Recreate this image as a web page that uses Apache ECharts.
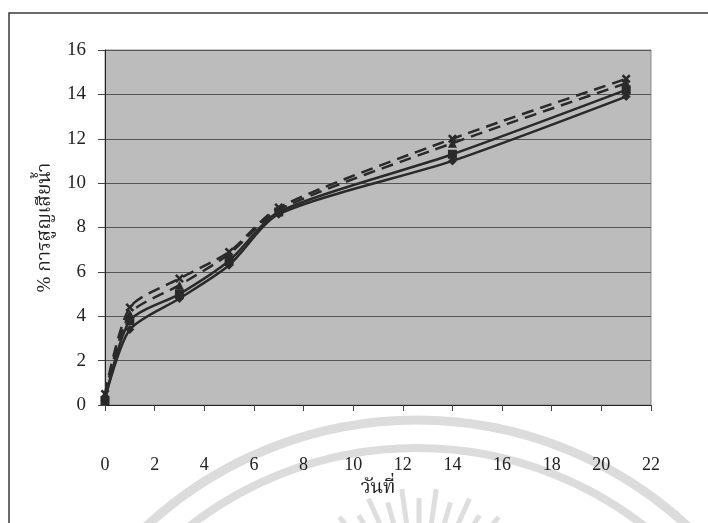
<!DOCTYPE html>
<html>
<head>
<meta charset="utf-8">
<script src="https://cdn.jsdelivr.net/npm/echarts@6/dist/echarts.min.js"></script>
<style>
  html, body { margin: 0; padding: 0; background: #fff; }
  #chart { width: 708px; height: 523px; }
</style>
</head>
<body>
<div id="chart"></div>
<script>
// Days of storage
const days = [0, 1, 3, 5, 7, 14, 21];

// Water loss (%) for each treatment
const lossA = [0.3, 3.4, 4.8, 6.3, 8.6, 11.0, 13.9];
const lossB = [0.2, 3.8, 5.0, 6.5, 8.7, 11.3, 14.2];
const lossC = [0.4, 4.1, 5.4, 6.8, 8.8, 11.8, 14.5];
const lossD = [0.5, 4.4, 5.7, 6.9, 8.9, 12.0, 14.7];

const xTicks = { min: 0, max: 22, step: 2 };
const yTicks = { min: 0, max: 16, step: 2 };

const serifFont = "'Liberation Serif', 'Times New Roman', 'Noto Serif Thai', 'Noto Sans Thai', 'Garuda', 'Loma', serif";
const lineColor = '#2a2a2a';

function pairs(ys) {
  return days.map((d, i) => [d, ys[i]]);
}

const crossPath = 'path://M0,2 L2,0 L5,3 L8,0 L10,2 L7,5 L10,8 L8,10 L5,7 L2,10 L0,8 L3,5 Z';

function lineSeries(name, ys, dashed, symbol) {
  return {
    name: name,
    type: 'line',
    data: pairs(ys),
    smooth: 0.25,
    symbol: symbol,
    symbolSize: 9,
    showSymbol: true,
    itemStyle: { color: lineColor },
    lineStyle: {
      color: lineColor,
      width: 2.5,
      type: dashed ? [12, 7] : 'solid'
    },
    emphasis: { disabled: true },
    z: 3
  };
}

// Faint circular seal in the lower part of the page
const sealGraphics = [];
const arcCenter = { x: 417, y: 818 };
[[398, 9], [370, 8]].forEach(([r, w]) => {
  sealGraphics.push({
    type: 'arc',
    silent: true,
    z: -10,
    shape: { cx: arcCenter.x, cy: arcCenter.y, r: r, startAngle: -Math.PI, endAngle: 0 },
    style: { stroke: '#dcdcdc', lineWidth: w, fill: null }
  });
});
// Sun rays converging on a point below the page
const rayCenter = { x: 419, y: 612 };
for (let k = -6; k <= 6; k++) {
  const a = (-90 + k * 8) * Math.PI / 180;
  const r0 = (k % 2 === 0) ? 114 : 124;
  const r1 = 40;
  sealGraphics.push({
    type: 'line',
    silent: true,
    z: -10,
    shape: {
      x1: rayCenter.x + r0 * Math.cos(a), y1: rayCenter.y + r0 * Math.sin(a),
      x2: rayCenter.x + r1 * Math.cos(a), y2: rayCenter.y + r1 * Math.sin(a)
    },
    style: { stroke: '#dedede', lineWidth: 5 }
  });
}

// Outer frame
sealGraphics.push({
  type: 'rect',
  silent: true,
  z: 10,
  shape: { x: 9, y: 13, width: 720, height: 540 },
  style: { stroke: '#3a3a3a', lineWidth: 1.5, fill: null }
});

const chart = echarts.init(document.getElementById('chart'), null, { renderer: 'canvas' });

chart.setOption({
  animation: false,
  backgroundColor: '#ffffff',
  grid: {
    left: 105, right: 57, top: 50, bottom: 118,
    show: true,
    backgroundColor: '#bcbcbc',
    borderColor: '#8a8a8a',
    borderWidth: 1
  },
  xAxis: {
    type: 'value',
    min: xTicks.min, max: xTicks.max, interval: xTicks.step,
    name: 'วันที่',
    nameLocation: 'middle',
    nameGap: 74,
    nameTextStyle: { fontFamily: serifFont, fontSize: 19, color: '#222' },
    axisLine: { show: true, onZero: false, lineStyle: { color: '#222', width: 1 } },
    axisTick: { show: true, inside: false, length: 6, lineStyle: { color: '#444' } },
    axisLabel: { margin: 51, fontFamily: serifFont, fontSize: 18, color: '#222' },
    splitLine: { show: false }
  },
  yAxis: {
    type: 'value',
    min: yTicks.min, max: yTicks.max, interval: yTicks.step,
    name: '% การสูญเสียน้ำ',
    nameLocation: 'middle',
    nameRotate: 90,
    nameGap: 50,
    nameTextStyle: { fontFamily: serifFont, fontSize: 19, color: '#222' },
    axisLine: { show: true, onZero: false, lineStyle: { color: '#222', width: 1 } },
    axisTick: { show: true, inside: false, length: 7, lineStyle: { color: '#444' } },
    axisLabel: { margin: 19, fontFamily: serifFont, fontSize: 19, color: '#222' },
    splitLine: { show: true, lineStyle: { color: '#555', width: 1 } }
  },
  graphic: sealGraphics,
  series: [
    lineSeries('A', lossA, false, 'diamond'),
    lineSeries('B', lossB, false, 'rect'),
    lineSeries('C', lossC, true, 'triangle'),
    lineSeries('D', lossD, true, crossPath)
  ]
});
</script>
</body>
</html>
